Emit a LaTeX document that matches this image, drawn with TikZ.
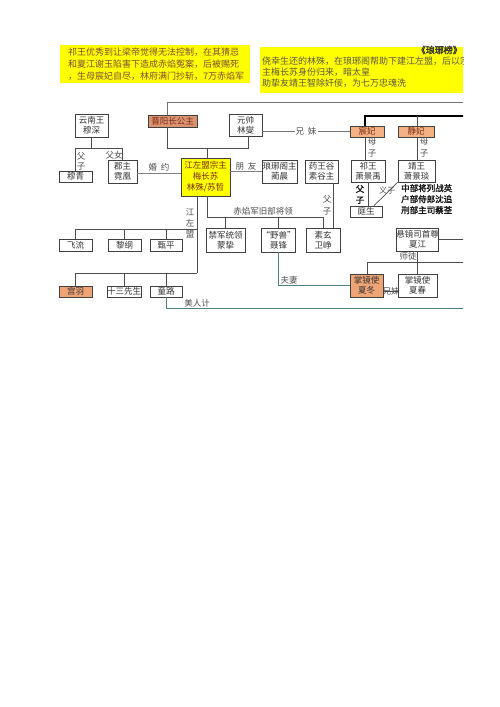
\documentclass[tikz,border=0pt]{standalone}
\usepackage{fontspec}
\newfontfamily\cjk{Noto Sans CJK SC}
\newfontfamily\cjkb[FakeBold=2]{Noto Sans CJK SC}
\usetikzlibrary{calc}
\definecolor{yel}{HTML}{FFFF00}
\definecolor{org}{HTML}{F4B183}
\definecolor{orgd}{HTML}{EFA475}
\definecolor{jyc}{HTML}{DB9470}
\definecolor{tred}{HTML}{7A2A18}
\definecolor{ytxtl}{HTML}{7F4A3A}
\definecolor{ytxtr}{HTML}{5F5845}
\definecolor{tealg}{HTML}{4F7F80}
\begin{document}
\begin{tikzpicture}[x=1pt,y=-1pt,
  box/.style={draw=black!75, line width=0.7pt, inner sep=0pt, align=center,
    font={\cjk\fontsize{8.5}{10}\selectfont}, text=black!80},
  conn/.style={draw=black!70, line width=0.7pt},
  lbl/.style={font={\cjk\fontsize{8.5}{10.5}\selectfont}, text=black!70, inner sep=0pt, align=center},
]
\fill[white] (0,0) rectangle (500,707);
\useasboundingbox (0,0) rectangle (500,707);
\begin{scope}
\clip (0,0) rectangle (463,707);

% yellow notes
\node[fill=yel, minimum width=190, minimum height=38, inner sep=0, anchor=north west] (yl) at (60,45) {};
\node[anchor=west, align=left, inner sep=0, text=ytxtl, font={\cjk\fontsize{9}{12}\selectfont}] (ylt) at (68,64.5)
  {祁王优秀到让梁帝觉得无法控制，在其猜忌\\和夏江谢玉陷害下造成赤焰冤案，后被赐死\\，生母宸妃自尽，林府满门抄斩，7万赤焰军};
\node[fill=yel, minimum width=210, minimum height=46, inner sep=0, anchor=north west] (yr) at (260,47) {};
\node[anchor=east, inner sep=0, text=black!80, font={\cjkb\fontsize{9}{11}\selectfont}] (yrt) at (462,50) {《琅琊榜》};
\node[anchor=west, align=left, inner sep=0, text=ytxtr, font={\cjk\fontsize{9}{11}\selectfont}] (yrx) at (262,72)
  {侥幸生还的林殊，在琅琊阁帮助下建江左盟，后以宗\\主梅长苏身份归来，暗太皇\\助挚友靖王智除奸佞，为七万忠魂洗};

% boxes
\node[box, minimum width=33, minimum height=23] (ynw) at (91.5,125.5) {云南王\\穆深};
\node[box, fill=jyc, text=tred, minimum width=49, minimum height=12] (jy) at (172.5,121) {晋阳长公主};
\node[box, minimum width=33, minimum height=22] (lx) at (245.5,125) {元帅\\林燮};
\node[box, fill=org, text=tred, minimum width=34, minimum height=11] (cf) at (367,131.5) {宸妃};
\node[box, fill=org, text=tred, minimum width=36, minimum height=11] (jf) at (416,131.5) {静妃};
\node[box, minimum width=33, minimum height=11] (mq) at (75.5,176.5) {穆青};
\node[box, minimum width=29, minimum height=23] (nh) at (122.5,171.5) {郡主\\霓凰};
\node[box, fill=yel, text=tred, minimum width=49, minimum height=38, font={\cjk\fontsize{8.5}{11}\selectfont}] (mcs) at (205.5,177) {江左盟宗主\\梅长苏\\林殊/苏哲};
\node[box, minimum width=35, minimum height=23] (lyg) at (279.5,171.5) {琅琊阁主\\蔺晨};
\node[box, minimum width=33, minimum height=23] (ywg) at (321.5,171.5) {药王谷\\素谷主};
\node[box, minimum width=34, minimum height=22] (qw) at (368,171) {祁王\\萧景禹};
\node[box, minimum width=37, minimum height=22] (jw) at (416.5,171) {靖王\\萧景琰};
\node[box, minimum width=32, minimum height=11] (ts) at (366,211.5) {庭生};
\node[box, minimum width=33, minimum height=12] (fl) at (75.5,245) {飞流};
\node[box, minimum width=33, minimum height=12] (lg) at (124.5,245) {黎纲};
\node[box, minimum width=32, minimum height=12] (zp) at (166,245) {甄平};
\node[box, minimum width=39, minimum height=24] (mz) at (225.5,240) {禁军统领\\蒙挚};
\node[box, minimum width=33, minimum height=24] (nf) at (278.5,240) {“野兽”\\聂锋};
\node[box, minimum width=34, minimum height=24] (wz) at (323,240) {素玄\\卫峥};
\node[box, minimum width=39, minimum height=23] (xj) at (417.5,239.5) {悬镜司首尊\\夏江};
\node[box, fill=orgd, minimum width=33, minimum height=11] (gy) at (75.5,291.5) {宫羽};
\node[box, minimum width=32, minimum height=11] (ss) at (124,291.5) {十三先生};
\node[box, minimum width=32, minimum height=11] (tl) at (166,291.5) {童路};
\node[box, fill=orgd, minimum width=33, minimum height=23] (xd) at (366.5,285.5) {掌镜使\\夏冬};
\node[box, minimum width=39, minimum height=23] (xc) at (417.5,285.5) {掌镜使\\夏春};

% helper coordinates
\coordinate (jyx) at (167,0);
\coordinate (topR) at (470,102);
\coordinate (lxj) at (248,148);
\coordinate (mcsj) at (207,148);
\coordinate (xmy) at (0,131);
\coordinate (R116) at (470,116);
\coordinate (cfx) at (365,0);
\coordinate (jfx) at (417,0);
\coordinate (qwx) at (368,0);
\coordinate (ywx) at (333,0);
\coordinate (yj) at (0,148);
\coordinate (hy) at (0,173);
\coordinate (py) at (0,171);
\coordinate (mx) at (197,0);
\coordinate (h229) at (197,229);
\coordinate (h273) at (197,273);
\coordinate (cyx) at (207,0);
\coordinate (cyh) at (0,217);
\coordinate (R262) at (470,262);
\coordinate (xdx) at (367,0);
\coordinate (xm) at (0,291);
\coordinate (R308) at (470,308);

% connectors
\draw[conn, draw=black!55] (jy.north -| jyx) |- (topR);
\draw[conn] (jy.south -| jyx) |- (lxj) -- (lx.south -| lxj);
\draw[conn] (mcsj) -- (mcs.north -| mcsj);
\draw[conn, draw=black!55] (lx.east |- xmy) -- (cf.west |- xmy);
\node[lbl, fill=white, inner sep=1pt] (xm1) at (306,131) {兄\hspace{4pt}妹};

\draw[black, line width=1.3pt] (cf.north -| cfx) |- (R116);
\draw[conn] (jf.north -| jfx) -- (jfx |- R116);
\draw[conn] (cf.south -| cfx) -- (qw.north -| cfx);
\node[lbl, font={\cjk\fontsize{8.5}{12.5}\selectfont}] (ms1) at (372,147.5) {母\\子};
\draw[conn] (jf.south -| jfx) -- (jw.north -| jfx);
\node[lbl, font={\cjk\fontsize{8.5}{12.5}\selectfont}] (ms2) at (424,147.5) {母\\子};

\draw[conn] (qw.south -| qwx) -- (ts.north -| qwx);
\node[lbl, text=black!90, font={\cjkb\fontsize{8.5}{11}\selectfont}] (fz2) at (360,194.5) {父\\子};
\draw[conn] ($(ts.north)+(8,0)$) -- (jw.south west);
\node[lbl, font={\cjk\fontsize{8}{10}\selectfont}] (yz) at (387,190) {义子};
\node[anchor=north west, align=left, inner sep=0, text=black!90, font={\cjkb\fontsize{8.5}{11}\selectfont}] (lst) at (401,184)
  {中部将列战英\\户部侍郎沈追\\刑部主司蔡荃};

\draw[conn] (ywg.south -| ywx) -- (wz.north -| ywx);
\node[lbl, font={\cjk\fontsize{8.5}{12}\selectfont}] (fz3) at (327,205) {父\\子};

% Yunnan
\draw[conn] (ynw.south) -- (ynw.south |- yj);
\draw[conn] (mq.north) |- (nh.north |- yj) -- (nh.north);
\node[lbl, font={\cjk\fontsize{8.5}{10}\selectfont}] (fz1) at (81,161) {父\\子};
\node[lbl] (fn) at (114,155) {父女};
\draw[conn, draw=black!50] (nh.east |- hy) -- (mcs.west |- hy);
\node[lbl] (hy1) at (159,167) {婚\hspace{4pt}约};
\draw[conn, draw=black!50] (mcs.east |- py) -- (lyg.west |- py);
\node[lbl] (py1) at (246,166) {朋\hspace{4pt}友};

% Jiangzuo
\draw[conn] (mcs.south -| mx) -- (h273);
\draw[conn] (fl.north) |- (h229);
\draw[conn] (lg.north) -- (lg.north |- h229);
\draw[conn] (zp.north) -- (zp.north |- h229);
\draw[conn] (gy.north) |- (h273);
\draw[conn] (ss.north) -- (ss.north |- h273);
\draw[conn] (tl.north) -- (tl.north |- h273);
\node[lbl, font={\cjk\fontsize{8.5}{11}\selectfont}] (jzm) at (190,223) {江\\左\\盟};

% Chiyan
\draw[conn] (mcs.south -| cyx) |- (wz.north |- cyh) -- (wz.north);
\draw[conn] (mz.north) -- (mz.north |- cyh);
\draw[conn] (nf.north) -- (nf.north |- cyh);
\node[lbl] (cy) at (263,211) {赤焰军旧部将领};

% couple / xuanjingsi
\draw[conn, draw=tealg] (nf.south) |- (xd.west);
\node[lbl] (fq) at (289,280) {夫妻};
\draw[conn] (xj.east) -- (xj.east -| R116);
\draw[conn] (xd.north -| xdx) |- (R262);
\draw[conn] (xj.south) -- (xc.north);
\node[lbl] (st) at (408,256) {师徒};
\draw[conn] (xd.east |- xm) -- (xc.west |- xm);
\node[lbl] (xm2) at (391,291) {兄妹};
\draw[conn, draw=tealg] (tl.south) |- (R308);
\node[lbl] (mrj) at (197,303) {美人计};
\end{scope}
\end{tikzpicture}
\end{document}
